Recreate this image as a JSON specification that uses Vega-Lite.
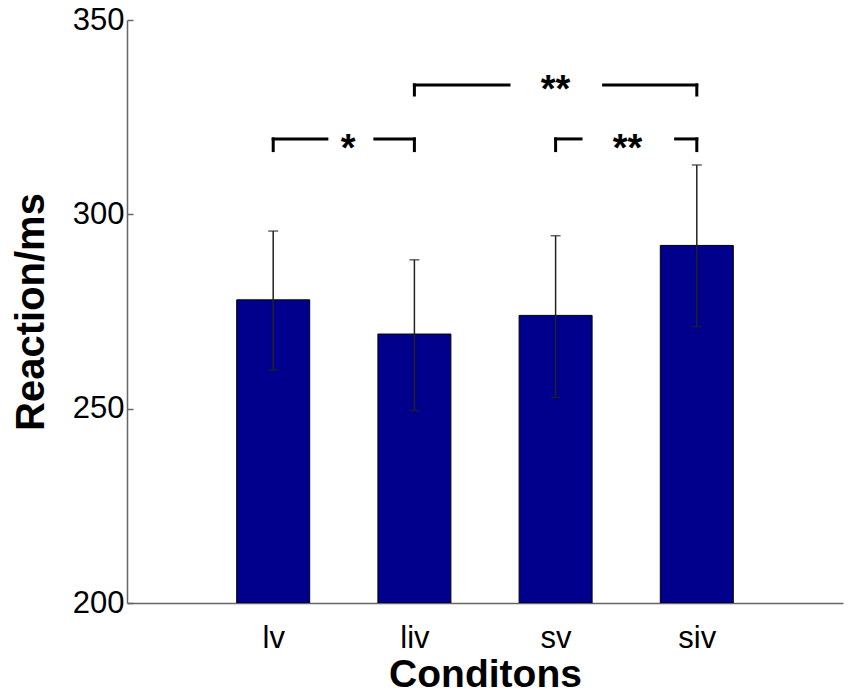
{
  "$schema": "https://vega.github.io/schema/vega-lite/v6.json",
  "width": 716,
  "height": 583,
  "autosize": "none",
  "padding": {"left": 127, "top": 20, "right": 8, "bottom": 96},
  "background": "white",
  "datasets": {
    "bars": [
      {"pos": 1, "cond": "lv", "mean": 278.0, "lo": 260.0, "hi": 295.7},
      {"pos": 2, "cond": "liv", "mean": 269.2, "lo": 249.5, "hi": 288.3},
      {"pos": 3, "cond": "sv", "mean": 274.0, "lo": 252.9, "hi": 294.5},
      {"pos": 4, "cond": "siv", "mean": 292.0, "lo": 271.1, "hi": 312.7}
    ],
    "segs": [
      {"x": 2.0, "x2": 2.67, "y": 333.3, "y2": 333.3},
      {"x": 3.34, "x2": 4.0, "y": 333.3, "y2": 333.3},
      {"x": 2.0, "x2": 2.0, "y": 333.3, "y2": 330.7},
      {"x": 4.0, "x2": 4.0, "y": 333.3, "y2": 330.7},
      {"x": 1.0, "x2": 1.38, "y": 319.4, "y2": 319.4},
      {"x": 1.72, "x2": 2.0, "y": 319.4, "y2": 319.4},
      {"x": 1.0, "x2": 1.0, "y": 319.4, "y2": 316.4},
      {"x": 2.0, "x2": 2.0, "y": 319.4, "y2": 316.4},
      {"x": 3.0, "x2": 3.18, "y": 319.4, "y2": 319.4},
      {"x": 3.85, "x2": 4.0, "y": 319.4, "y2": 319.4},
      {"x": 3.0, "x2": 3.0, "y": 319.4, "y2": 316.4},
      {"x": 4.0, "x2": 4.0, "y": 319.4, "y2": 316.4}
    ],
    "stars": [
      {"x": 3.0, "y": 328.9, "label": "**"},
      {"x": 1.53, "y": 313.8, "label": "*"},
      {"x": 3.51, "y": 313.8, "label": "**"}
    ]
  },
  "layer": [
    {
      "data": {"name": "bars"},
      "mark": {"type": "bar", "size": 73, "fill": "#00008c", "stroke": "#000000", "strokeWidth": 1, "clip": true},
      "encoding": {
        "x": {
          "field": "pos",
          "type": "quantitative",
          "scale": {"domain": [0, 5], "nice": false, "zero": false},
          "axis": {
            "title": "Conditons",
            "values": [1, 2, 3, 4],
            "labelExpr": "['', 'lv', 'liv', 'sv', 'siv'][datum.value]",
            "grid": false,
            "ticks": false,
            "labelPadding": 20,
            "labelFontSize": 31,
            "labelFont": "Liberation Sans",
            "labelColor": "#000000",
            "titleFontSize": 39,
            "titleFont": "Liberation Sans",
            "titleFontWeight": "bold",
            "titleColor": "#000000",
            "titlePadding": 2,
            "domainColor": "#666666",
            "domainWidth": 1.5
          }
        },
        "y": {
          "field": "mean",
          "type": "quantitative",
          "scale": {"domain": [200, 350], "nice": false, "zero": false},
          "axis": {
            "title": "Reaction/ms",
            "values": [200, 250, 300, 350],
            "grid": false,
            "tickSize": -6,
            "tickColor": "#666666",
            "tickWidth": 1.5,
            "labelPadding": 9,
            "labelFontSize": 31,
            "labelFont": "Liberation Sans",
            "labelColor": "#000000",
            "titleFontSize": 40,
            "titleFont": "Liberation Sans",
            "titleFontWeight": "bold",
            "titleColor": "#000000",
            "titlePadding": 21,
            "domainColor": "#666666",
            "domainWidth": 1.5
          }
        },
        "y2": {"datum": 200}
      }
    },
    {
      "data": {"name": "bars"},
      "mark": {"type": "rule", "color": "#222222", "strokeWidth": 1.5},
      "encoding": {
        "x": {"field": "pos", "type": "quantitative"},
        "y": {"field": "lo", "type": "quantitative"},
        "y2": {"field": "hi"}
      }
    },
    {
      "data": {"name": "bars"},
      "mark": {"type": "tick", "orient": "horizontal", "size": 10, "thickness": 1.5, "color": "#222222"},
      "encoding": {
        "x": {"field": "pos", "type": "quantitative"},
        "y": {"field": "lo", "type": "quantitative"}
      }
    },
    {
      "data": {"name": "bars"},
      "mark": {"type": "tick", "orient": "horizontal", "size": 10, "thickness": 1.5, "color": "#222222"},
      "encoding": {
        "x": {"field": "pos", "type": "quantitative"},
        "y": {"field": "hi", "type": "quantitative"}
      }
    },
    {
      "data": {"name": "segs"},
      "mark": {"type": "rule", "color": "#000000", "strokeWidth": 3, "strokeCap": "square"},
      "encoding": {
        "x": {"field": "x", "type": "quantitative"},
        "x2": {"field": "x2"},
        "y": {"field": "y", "type": "quantitative"},
        "y2": {"field": "y2"}
      }
    },
    {
      "data": {"name": "stars"},
      "mark": {"type": "text", "font": "Liberation Sans", "fontSize": 38, "fontWeight": "bold", "baseline": "alphabetic", "align": "center", "color": "#000000"},
      "encoding": {
        "x": {"field": "x", "type": "quantitative"},
        "y": {"field": "y", "type": "quantitative"},
        "text": {"field": "label"}
      }
    }
  ],
  "config": {
    "view": {"stroke": null}
  }
}
